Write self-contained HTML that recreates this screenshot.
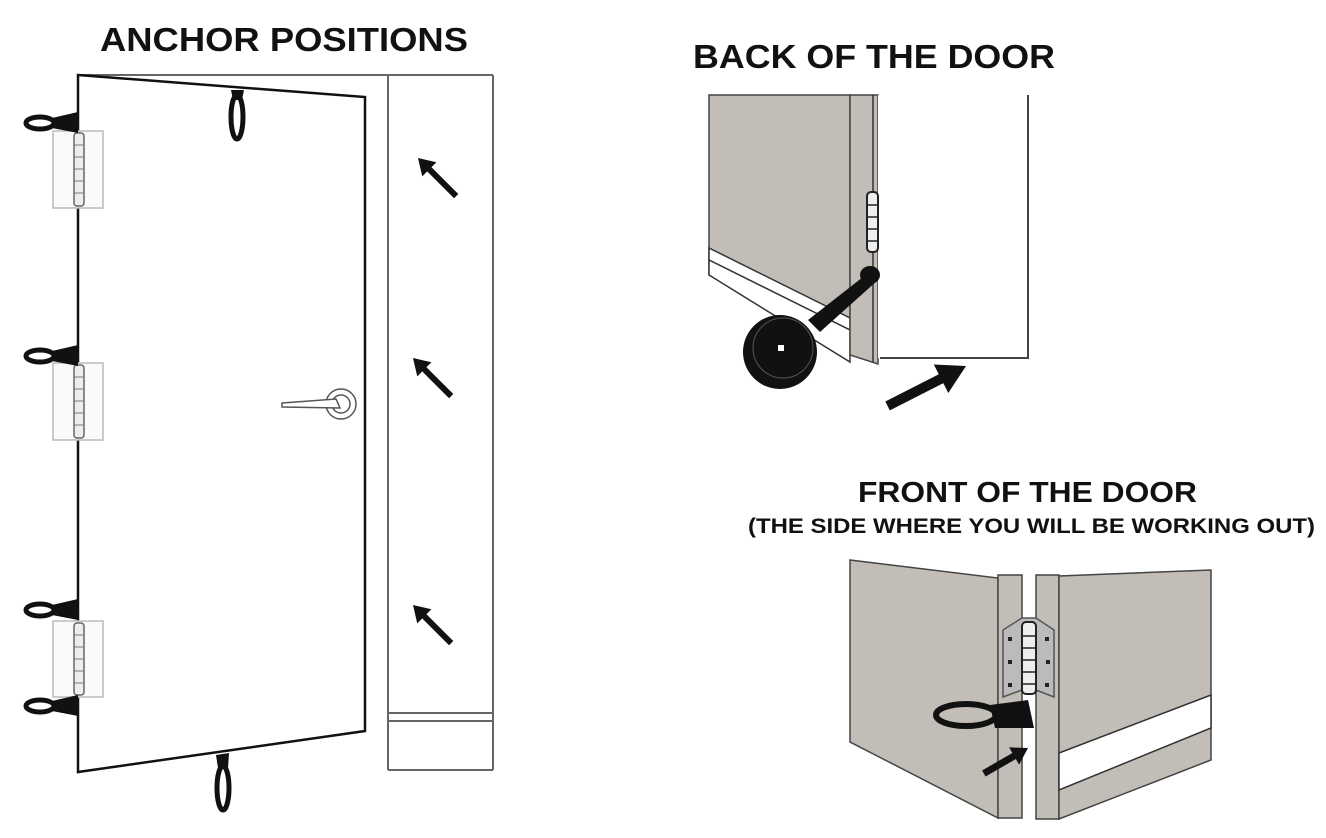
<!DOCTYPE html>
<html><head><meta charset="utf-8"><style>
html,body{margin:0;padding:0;background:#fff;}
svg{display:block;}
text{font-family:"Liberation Sans",sans-serif;font-weight:bold;fill:#111;}
</style></head><body>
<svg width="1326" height="838" viewBox="0 0 1326 838" xmlns="http://www.w3.org/2000/svg">
<rect width="1326" height="838" fill="#fff"/>
<!-- titles -->
<text x="100" y="51" font-size="33" textLength="368" lengthAdjust="spacingAndGlyphs">ANCHOR POSITIONS</text>
<text x="693" y="68" font-size="33" textLength="362" lengthAdjust="spacingAndGlyphs">BACK OF THE DOOR</text>
<text x="858" y="502" font-size="29" textLength="339" lengthAdjust="spacingAndGlyphs">FRONT OF THE DOOR</text>
<text x="748" y="533" font-size="21" textLength="567" lengthAdjust="spacingAndGlyphs">(THE SIDE WHERE YOU WILL BE WORKING OUT)</text>

<!-- LEFT: frame -->
<g fill="none" stroke="#666" stroke-width="2">
<line x1="78" y1="75" x2="493" y2="75"/>
<line x1="388" y1="75" x2="388" y2="770"/>
<line x1="493" y1="75" x2="493" y2="770"/>
<line x1="388" y1="770" x2="493" y2="770"/>
<line x1="388" y1="713" x2="493" y2="713"/>
<line x1="388" y1="721" x2="493" y2="721"/>
</g>
<!-- door -->
<polygon points="78,75 365,97 365,731 78,772" fill="#fff" stroke="#111" stroke-width="2.5"/>
<!-- hinges -->
<g fill="#fafafa" stroke="#bbb" stroke-width="1.5">
<rect x="53" y="131" width="50" height="77"/>
<rect x="53" y="363" width="50" height="77"/>
<rect x="53" y="621" width="50" height="76"/>
</g>
<g fill="#eee" stroke="#666" stroke-width="1.5">
<rect x="74" y="133" width="10" height="73" rx="3"/>
<rect x="74" y="365" width="10" height="73" rx="3"/>
<rect x="74" y="623" width="10" height="72" rx="3"/>
</g>
<g stroke="#777" stroke-width="1">
<path d="M74 145h10M74 157h10M74 169h10M74 181h10M74 193h10"/>
<path d="M74 377h10M74 389h10M74 401h10M74 413h10M74 425h10"/>
<path d="M74 635h10M74 647h10M74 659h10M74 671h10M74 683h10"/>
</g>
<!-- side anchors -->
<g fill="none" stroke="#111" stroke-width="5">
<ellipse cx="40" cy="123" rx="14" ry="6"/>
<ellipse cx="40" cy="356" rx="14" ry="6"/>
<ellipse cx="40" cy="610" rx="14" ry="6"/>
<ellipse cx="40" cy="706" rx="14" ry="6"/>
<ellipse cx="237" cy="117" rx="6" ry="22"/>
<ellipse cx="223" cy="788" rx="6" ry="22"/>
</g>
<g fill="#111">
<polygon points="52,118 78,112 78,133 52,128"/>
<polygon points="52,351 78,345 78,366 52,361"/>
<polygon points="52,605 78,599 78,620 52,615"/>
<polygon points="52,701 78,695 78,716 52,711"/>
<polygon points="231,90 244,90 242,100 233,100"/>
<polygon points="216,755 229,753 228,768 218,768"/>
</g>
<!-- handle -->
<g fill="#fff" stroke="#555" stroke-width="1.5">
<circle cx="341" cy="404" r="15"/>
<circle cx="341" cy="404" r="9"/>
<path d="M282 403 L336 399 L340 408 L282 407 Z"/>
</g>
<!-- left arrows (pointing up-left) -->
<g fill="#111">
<g transform="translate(418,158) rotate(-45)"><polygon points="0,0 -10,16 10,16"/><rect x="-3" y="14" width="6" height="40"/></g>
<g transform="translate(413,358) rotate(-45)"><polygon points="0,0 -10,16 10,16"/><rect x="-3" y="14" width="6" height="40"/></g>
<g transform="translate(413,605) rotate(-45)"><polygon points="0,0 -10,16 10,16"/><rect x="-3" y="14" width="6" height="40"/></g>
</g>

<!-- BACK OF THE DOOR -->
<polygon points="709,95 850,95 850,330 709,275" fill="#c2bdb6" stroke="#444" stroke-width="1.5"/>
<polygon points="709,248 850,318 850,330 709,260" fill="#fff" stroke="#333" stroke-width="1.5"/>
<polygon points="709,260 850,330 850,362 709,275" fill="#fff" stroke="#333" stroke-width="1.5"/>
<polygon points="850,95 878,95 878,364 850,355" fill="#c2bdb6" stroke="#444" stroke-width="1.5"/>
<line x1="873" y1="95" x2="873" y2="362" stroke="#333" stroke-width="1.5"/>
<rect x="878" y="95" width="150" height="263" fill="#fff"/>
<polyline points="880,358 1028,358 1028,95" fill="none" stroke="#444" stroke-width="2"/>
<rect x="867" y="192" width="11" height="60" rx="4" fill="#eee" stroke="#222" stroke-width="2"/>
<path d="M867 205h11M867 217h11M867 229h11M867 241h11" stroke="#222" stroke-width="1.5"/>
<path d="M808 320 L872 270 L878 280 L820 332 Z" fill="#111"/>
<ellipse cx="870" cy="275" rx="10" ry="9" fill="#111"/>
<circle cx="780" cy="352" r="37" fill="#111"/>
<circle cx="783" cy="348" r="30" fill="none" stroke="#555" stroke-width="1"/>
<rect x="778" y="345" width="6" height="6" fill="#fff"/>
<g transform="translate(966,366) rotate(63)"><polygon points="0,0 -16,28 16,28" fill="#111"/><rect x="-5" y="26" width="10" height="62" fill="#111"/></g>

<!-- FRONT OF THE DOOR -->
<polygon points="850,560 998,578 998,818 850,742" fill="#c2bdb6" stroke="#444" stroke-width="1.5"/>
<rect x="998" y="575" width="24" height="243" fill="#c2bdb6" stroke="#444" stroke-width="1.5"/>
<rect x="1036" y="575" width="23" height="244" fill="#c2bdb6" stroke="#444" stroke-width="1.5"/>
<polygon points="1059,576 1211,570 1211,760 1059,819" fill="#c2bdb6" stroke="#444" stroke-width="1.5"/>
<polygon points="1059,753 1211,695 1211,728 1059,790" fill="#fff" stroke="#333" stroke-width="1.5"/>
<polygon points="1003,630 1022,618 1036,618 1054,630 1054,697 1036,690 1022,690 1003,697" fill="#bbb" stroke="#555" stroke-width="1.5"/>
<rect x="1022" y="622" width="14" height="72" rx="4" fill="#eee" stroke="#222" stroke-width="2"/>
<path d="M1022 636h14M1022 648h14M1022 660h14M1022 672h14M1022 684h14" stroke="#222" stroke-width="1.5"/>
<g fill="#222"><rect x="1008" y="637" width="4" height="4"/><rect x="1045" y="637" width="4" height="4"/><rect x="1008" y="660" width="4" height="4"/><rect x="1046" y="660" width="4" height="4"/><rect x="1008" y="683" width="4" height="4"/><rect x="1045" y="683" width="4" height="4"/></g>
<ellipse cx="966" cy="715" rx="30" ry="11" fill="none" stroke="#111" stroke-width="6"/>
<polygon points="990,705 1028,700 1034,728 995,728" fill="#111"/>
<g transform="translate(1028,748) rotate(60)"><polygon points="0,0 -10,16 10,16" fill="#111"/><rect x="-3.5" y="15" width="7" height="36" fill="#111"/></g>
</svg>
</body></html>
